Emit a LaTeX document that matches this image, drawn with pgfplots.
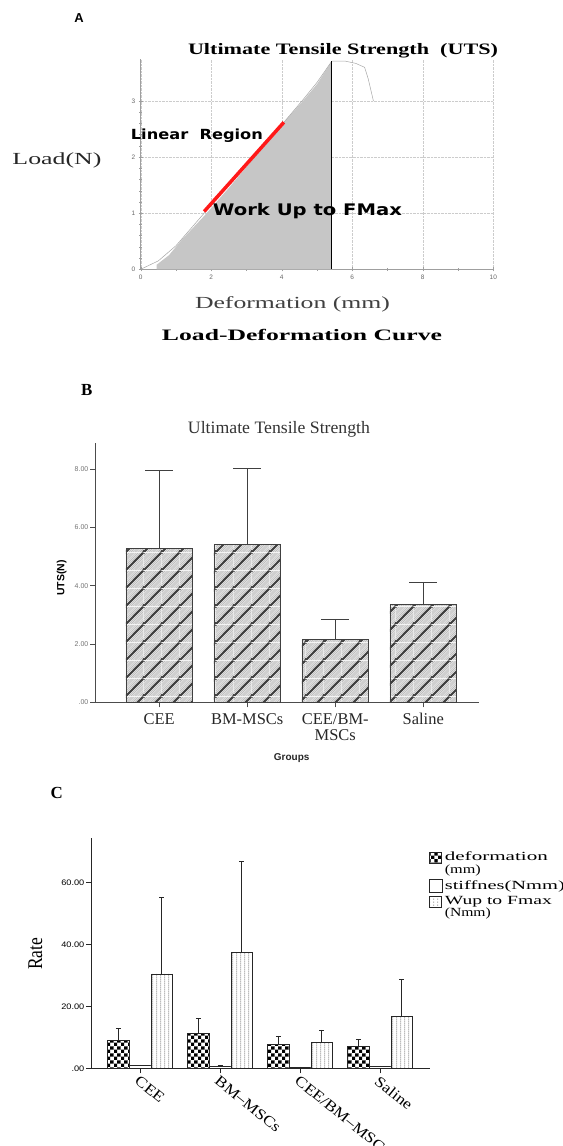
\documentclass[border=0pt]{standalone}
\usepackage{fontspec}
\setmainfont{Liberation Serif}
\setsansfont{Liberation Sans}
\newfontfamily\dvs{DejaVu Sans}
\usepackage{graphicx}
\usepackage{pgfplots}
\pgfplotsset{compat=1.18}
\usetikzlibrary{patterns,patterns.meta}
\newcommand{\fw}[2]{\resizebox{#1}{\height}{#2}}
\newcommand{\fs}[1]{\fontsize{#1}{#1}\selectfont}
\newcommand{\sx}[1]{\scalebox{1.15}[1]{#1}}

\tikzdeclarepattern{
  name=utshatch, type=colored,
  bottom left={(0bp,0bp)}, top right={(18bp,18bp)}, tile size={(18bp,18bp)},
  code={
    \fill[gray!62] (0bp,0bp) rectangle (18bp,18bp);
    \foreach \k in {-18,-16,...,16} {\draw[gray!12, line width=0.6bp] (\k bp,0bp) -- ++(18bp,18bp);}
    \foreach \k in {-18,0,18} {\draw[gray!50!black, line width=2.2bp] (\k bp,0bp) -- ++(18bp,18bp);}
  }
}
\tikzdeclarepattern{
  name=checker, type=colored,
  bottom left={(0bp,0bp)}, top right={(7.2bp,7.2bp)}, tile size={(7.2bp,7.2bp)},
  code={
    \fill[white] (0bp,0bp) rectangle (7.2bp,7.2bp);
    \fill[black] (0bp,0bp) rectangle (3.6bp,3.6bp);
    \fill[black] (3.6bp,3.6bp) rectangle (7.2bp,7.2bp);
  }
}
\tikzdeclarepattern{
  name=vdots, type=colored,
  bottom left={(0bp,0bp)}, top right={(3.6bp,2.4bp)}, tile size={(3.6bp,2.4bp)},
  code={
    \fill[white] (0bp,0bp) rectangle (3.6bp,2.4bp);
    \fill[gray!80] (1.3bp,0.5bp) rectangle (2.3bp,1.6bp);
  }
}

\pgfplotsset{
  legup/.style={legend image code/.code={\draw[##1] (0bp,0bp) rectangle (12bp,11bp);}},
  legmid/.style={legend image code/.code={\draw[##1] (0bp,-6.5bp) rectangle (13bp,6.5bp);}},
}

\pgfplotstableread{
x y e
0 5.27 2.67
1 5.40 2.62
2 2.15 0.70
3 3.35 0.78
}\utsdata
\pgfplotstableread{
x y e
0 9.14 3.76
1 11.3 4.90
2 7.75 2.75
3 7.10 2.30
}\defdata
\pgfplotstableread{
x y e
0 0.90 0.20
1 0.70 0.30
2 0.30 0.20
3 0.60 0.20
}\stifdata
\pgfplotstableread{
x y e
0 30.5 24.6
1 37.5 29.3
2 8.3 4.1
3 16.8 12.0
}\wupdata

\begin{document}
\begin{tikzpicture}
\path[use as bounding box] (0bp,0bp) rectangle (563bp,1146bp);

% ---------------- Panel A ----------------
\begin{axis}[
  at={(140.7bp,876.7bp)}, anchor=south west, scale only axis,
  width=352.6bp, height=210.4bp,
  xmin=0, xmax=10, ymin=0, ymax=3.75,
  axis x line=bottom, axis y line=left,
  axis line style={-, gray!75, line width=0.5bp},
  xtick={0,2,...,10}, ytick={0,1,2,3},
  minor x tick num=1, minor y tick num=4,
  tick style={gray!75, line width=0.4bp},
  major tick length=4bp, minor tick length=3bp, tick align=center,
  grid=major, major grid style={gray!40, densely dotted, line width=0.4bp},
  /pgf/number format/assume math mode=true,
  ticklabel style={font=\sffamily\fs{6.5}, text=gray!80!black},
  clip=false,
]
\addplot[fill=gray!45, draw=none] coordinates {
  (0.45,0) (0.45,0.08) (0.8,0.25) (1.2,0.55) (1.8,0.95) (2.5,1.45) (3.3,2.05)
  (4.06,2.62) (4.6,3.0) (5.0,3.3) (5.42,3.71) (5.42,0)} \closedcycle;
\addplot[gray!70, line width=0.5bp] coordinates {
  (0,0) (0.5,0.15) (1.0,0.42) (1.8,1.0) (4.06,2.62) (4.6,3.02) (5.0,3.33) (5.42,3.71)
  (5.8,3.71) (6.1,3.67) (6.35,3.6) (6.45,3.4) (6.6,3.0)};
\addplot[red!90!white, line width=3.5bp] coordinates {(1.8,1.03) (4.06,2.62)};
\addplot[black, line width=1bp] coordinates {(5.42,0) (5.42,3.71)};
\end{axis}

\node[font=\sffamily\bfseries\fs{13}] at (79bp,1128bp) {A};
\node[inner sep=0pt, font=\bfseries\fs{16}] at (343bp,1095.3bp) {\fw{310bp}{Ultimate Tensile Strength\ \ (UTS)}};
\node[inner sep=0pt, anchor=west, font=\dvs\bfseries\fs{14}] at (130.7bp,1010.7bp) {\fw{132bp}{Linear\ \ Region}};
\node[inner sep=0pt, anchor=west, font=\dvs\bfseries\fs{16}] at (212.7bp,935bp) {\fw{189bp}{Work Up to FMax}};
\node[inner sep=0pt, font=\fs{17}, text=black!85] at (57bp,985.3bp) {\fw{89bp}{Load(N)}};
\node[inner sep=0pt, font=\fs{17}, text=black!75] at (292.5bp,842bp) {\fw{195bp}{Deformation (mm)}};
\node[inner sep=0pt, font=\bfseries\fs{16}] at (302bp,811bp) {\fw{280bp}{Load-Deformation Curve}};

% ---------------- Panel B ----------------
\begin{axis}[
  at={(95bp,443.7bp)}, anchor=south west, scale only axis,
  width=383.7bp, height=259bp,
  xmin=-0.73, xmax=3.63, ymin=0, ymax=8.88,
  axis lines=left, axis line style={-, black!70, line width=0.6bp},
  xtick={0,1,2,3}, xticklabels={CEE,BM-MSCs,{CEE/BM-\\MSCs},Saline},
  xticklabel style={font=\fs{16.5}, align=center, text=black!85, inner sep=2bp, yshift=-4bp},
  ytick={0,2,4,6,8}, yticklabels={.00,2.00,4.00,6.00,8.00},
  yticklabel style={font=\sffamily\fs{7}, text=gray!90!black, inner sep=1.5bp},
  tick align=outside, major tick length=5bp, tick style={black!70, line width=0.6bp},
  ybar, bar width=66.7bp,
  clip=false,
]
\addplot[draw=black!75, line width=0.7bp, pattern=utshatch,
  error bars/.cd, y dir=plus, y explicit,
  error bar style={line width=0.6bp, black!75},
  error mark options={rotate=90, mark size=14bp, line width=0.6bp, black!75}]
  table[x=x, y=y, y error=e] {\utsdata};
\end{axis}

\node[font=\bfseries\fs{17}] at (86.7bp,756bp) {B};
\node[inner sep=0pt, font=\fs{17.5}, text=black!80] at (279bp,716.7bp) {\fw{182bp}{Ultimate Tensile Strength}};
\node[inner sep=0pt, rotate=90, font=\sffamily\bfseries\fs{10.5}] at (61.7bp,568bp) {UTS(N)};
\node[inner sep=0pt, font=\sffamily\bfseries\fs{10}, text=black!85] at (291.7bp,387.7bp) {Groups};

% ---------------- Panel C ----------------
\begin{axis}[
  at={(91bp,77.7bp)}, anchor=south west, scale only axis,
  width=339.4bp, height=230bp,
  xmin=-0.6125, xmax=3.63, ymin=0, ymax=74.3,
  axis lines=left, axis line style={-, black!85, line width=0.7bp},
  xtick={0,1,2,3},
  xticklabels={\scalebox{1.17}[1]{CEE},\scalebox{1.17}[1]{BM–MSCs},\scalebox{1.17}[1]{CEE/BM–MSCs},\scalebox{1.17}[1]{Saline}},
  xticklabel style={rotate=-39, anchor=north west, font=\fs{15}, inner sep=1bp},
  ytick={0,20,40,60}, yticklabels={\sx{.00},\sx{20.00},\sx{40.00},\sx{60.00}},
  yticklabel style={font=\sffamily\fs{8}, inner sep=1.5bp},
  tick align=outside, major tick length=5bp, tick style={black!85, line width=0.6bp},
  ybar=0pt, bar width=21.7bp,
  legend style={at={(rel axis cs:0.996,0.949)}, anchor=north west, draw=none, fill=none,
    inner sep=0pt, font=\fs{12.5}, cells={align=left}, row sep=1.5bp},
  legend cell align=left,
  clip=false,
]
\addplot[draw=black!85, line width=0.6bp, pattern=checker, legup,
  error bars/.cd, y dir=plus, y explicit,
  error bar style={line width=0.5bp, black!85},
  error mark options={rotate=90, mark size=2.5bp, line width=0.5bp, black!85}]
  table[x=x, y=y, y error=e] {\defdata};
\addlegendentry{\fw{103bp}{deformation}\\\fw{36bp}{(mm)}}
\addplot[draw=black!85, line width=0.6bp, fill=white, legmid,
  error bars/.cd, y dir=plus, y explicit,
  error bar style={line width=0.5bp, black!85},
  error mark options={rotate=90, mark size=2.5bp, line width=0.5bp, black!85}]
  table[x=x, y=y, y error=e] {\stifdata};
\addlegendentry{\fw{120bp}{stiffnes(Nmm)}}
\addplot[draw=black!85, line width=0.6bp, pattern=vdots, legup,
  error bars/.cd, y dir=plus, y explicit,
  error bar style={line width=0.5bp, black!85},
  error mark options={rotate=90, mark size=2.5bp, line width=0.5bp, black!85}]
  table[x=x, y=y, y error=e] {\wupdata};
\addlegendentry{\fw{107bp}{Wup to Fmax}\\\fw{46bp}{(Nmm)}}
\end{axis}

\node[font=\bfseries\fs{17}] at (56.7bp,352.7bp) {C};
\node[inner sep=0pt, rotate=90, font=\fs{17.5}] at (35.5bp,192bp) {\scalebox{1}[1.2]{Rate}};

\end{tikzpicture}
\end{document}
